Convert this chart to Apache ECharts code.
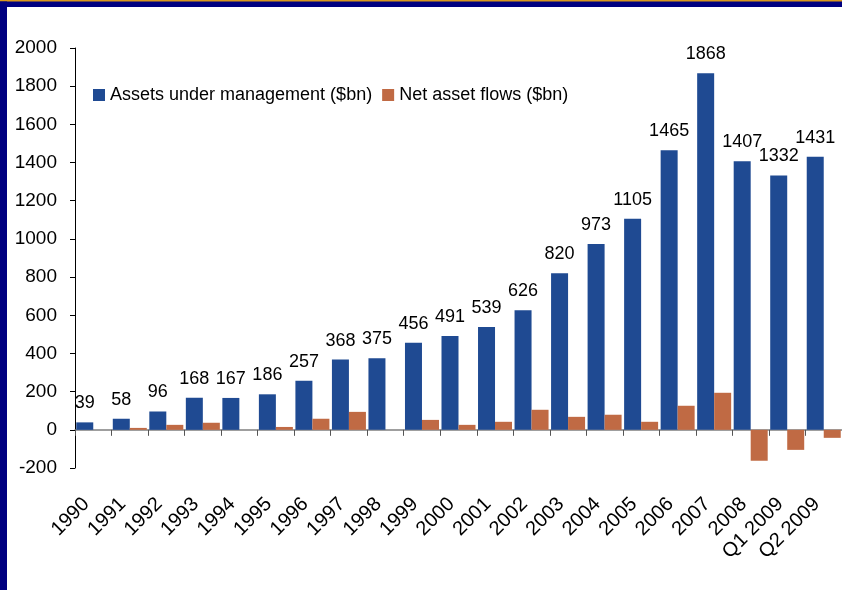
<!DOCTYPE html>
<html>
<head>
<meta charset="utf-8">
<script src="https://cdn.jsdelivr.net/npm/echarts@6/dist/echarts.min.js"></script>
<style>
  html, body { margin: 0; padding: 0; background: #fff; }
  #chart { width: 842px; height: 590px; }
</style>
</head>
<body>
<div id="chart"></div>
<script>
var categories = ['1990', '1991', '1992', '1993', '1994', '1995', '1996', '1997', '1998', '1999',
  '2000', '2001', '2002', '2003', '2004', '2005', '2006', '2007', '2008', 'Q1 2009', 'Q2 2009'];
var assets = [39, 58, 96, 168, 167, 186, 257, 368, 375, 456, 491, 539, 626, 820, 973, 1105, 1465, 1868, 1407, 1332, 1431];
var flows = [0, 10, 26, 37, 0, 15, 58, 94, 0, 52, 26, 42, 105, 68, 79, 42, 126, 194, -162, -105, -42];
var yMin = -200, yMax = 2000, yStep = 200;

function init(){
  var myChart = echarts.init(document.getElementById('chart'));
  var font = 'Liberation Sans, Arial, sans-serif';
  var option = {
    animation: false,
    backgroundColor: '#fff',
    textStyle: { fontFamily: font },
    graphic: [
      { type: 'rect', shape: { x: 0, y: 0, width: 842, height: 7 }, style: { fill: '#000080' } },
      { type: 'rect', shape: { x: 0, y: 0, width: 842, height: 1.5 }, style: { fill: '#d9981c' } },
      { type: 'rect', shape: { x: 0, y: 1.5, width: 7, height: 590 }, style: { fill: '#000080' } }
    ],
    legend: {
      left: 88,
      top: 81,
      itemWidth: 12,
      itemHeight: 12,
      itemGap: 10,
      icon: 'rect',
      textStyle: { fontSize: 18, color: '#000', fontFamily: font },
      data: ['Assets under management ($bn)', 'Net asset flows ($bn)']
    },
    grid: { left: 75, right: -1, top: 48, bottom: 122 },
    xAxis: [{
      type: 'category',
      data: categories,
      axisLine: { onZero: true, lineStyle: { color: '#808080', width: 1.5 } },
      axisTick: { show: true, interval: 0, length: 6, lineStyle: { color: '#555' } },
      axisLabel: { show: false }
    }, {
      type: 'category',
      data: categories,
      position: 'bottom',
      axisLine: { show: false, onZero: false },
      axisTick: { show: false },
      axisLabel: {
        interval: 0, rotate: 45, margin: 26, fontSize: 20, color: '#000', fontFamily: font,
        padding: [0, 10, 0, 0]
      }
    }],
    yAxis: {
      type: 'value',
      min: yMin,
      max: yMax,
      interval: yStep,
      axisLine: { show: true, lineStyle: { color: '#000' } },
      axisTick: { show: true, length: 5, lineStyle: { color: '#000' } },
      splitLine: { show: false },
      axisLabel: {
        fontSize: 19, color: '#000', margin: 18, fontFamily: font,
        formatter: function(v){ return String(v); }
      }
    },
    series: [{
      name: 'Assets under management ($bn)',
      type: 'bar',
      data: assets,
      barWidth: 17,
      barGap: '0%',
      itemStyle: { color: '#1f4a92' },
      label: { show: true, position: 'top', distance: 10, fontSize: 18, color: '#000', fontFamily: font }
    }, {
      name: 'Net asset flows ($bn)',
      type: 'bar',
      data: flows,
      barWidth: 17,
      barGap: '0%',
      itemStyle: { color: '#c06a44' }
    }]
  };
  myChart.setOption(option);
}
init();
</script>
</body>
</html>
